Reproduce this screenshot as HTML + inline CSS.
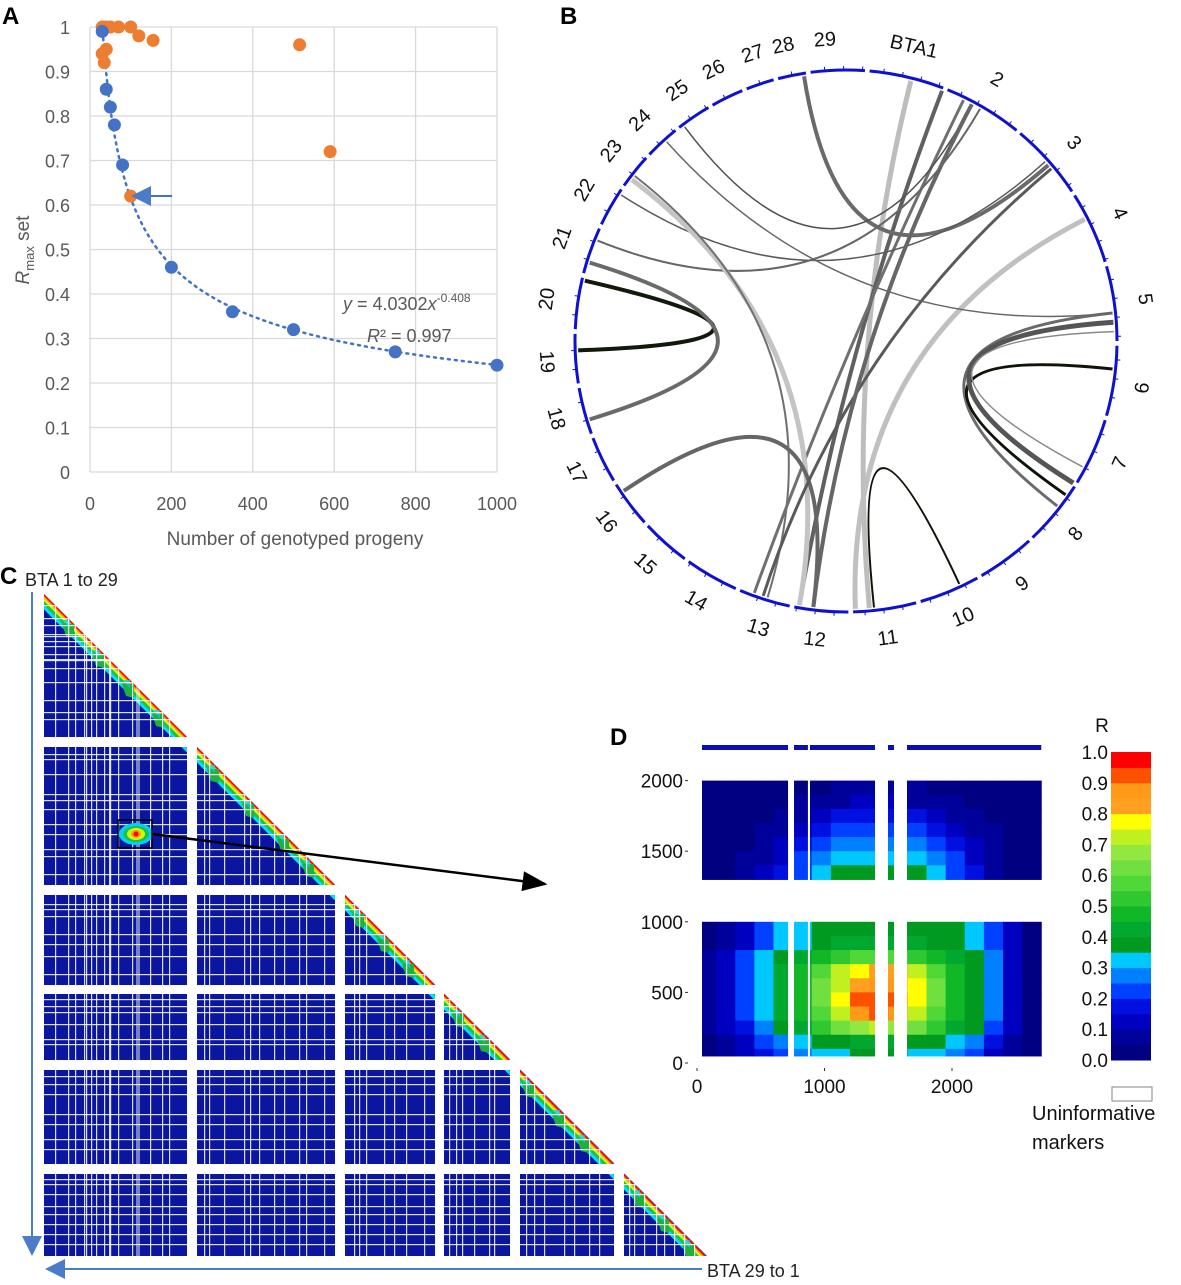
<!DOCTYPE html>
<html><head><meta charset="utf-8"><style>
html,body{margin:0;padding:0;background:#fff;}
svg text{font-family:"Liberation Sans",sans-serif;}
</style></head><body>
<svg id="fig" width="1181" height="1280" viewBox="0 0 1181 1280" xmlns="http://www.w3.org/2000/svg">
<defs>
<clipPath id="triClip"><polygon points="44,594 44,1256 707,1256"/></clipPath>
<clipPath id="dClip"><rect x="702" y="740" width="342" height="320"/></clipPath>
<marker id="arrBlue" markerWidth="10" markerHeight="10" refX="9" refY="5" orient="auto"><path d="M0,0 L10,5 L0,10 z" fill="#4a7cc7"/></marker>
<marker id="arrBlk" markerWidth="10" markerHeight="10" refX="9" refY="5" orient="auto"><path d="M0,1 L10,5 L0,9 z" fill="#000"/></marker>
</defs>
<g id="panelA"></g>
<g id="panelB"></g>
<g id="panelC"></g>
<g id="panelD"></g>
</svg>
<script>
// ---------- Panel A data ----------
const blueX=[30,40,50,60,80,200,350,500,750,1000];
const blueY=[0.99,0.86,0.82,0.78,0.69,0.46,0.36,0.32,0.27,0.24];
const orangeX=[30,40,50,70,100,120,155,30,35,40,100,515,590];
const orangeY=[1,1,1,1,1,0.98,0.97,0.94,0.92,0.95,0.62,0.96,0.72];
const xTicksA=[0,200,400,600,800,1000];
const yTicksA=[0,0.1,0.2,0.3,0.4,0.5,0.6,0.7,0.8,0.9,1];
const fitA=4.0302, fitB=-0.408;
// ---------- Panel B data ----------
const chromLabels=["BTA1","2","3","4","5","6","7","8","9","10","11","12","13","14","15","16","17","18","19","20","21","22","23","24","25","26","27","28","29"];
const chromAngles=[13,30,49,65,82,99,114,130,144,157,172,186,197,210,222,233,244,255,266,278,290,300,309,317,326,334,342,348,356];
const chordFrom=[14,21,26,351,323,303,292,268,253,307,308,236,63,84,84,96,122,155,198,187,118];
const chordTo=[175,190,200,49,28,48,30,283,287,190,197,187,178,128,318,125,86,174,50,28,88];
const chordColor=["#bdbdbd","#606060","#707070","#6a6a6a","#505050","#5a5a5a","#666","#111a0a","#6a6a6a","#c4c4c4","#707070","#666","#c0c0c0","#6a6a6a","#666","#0d1408","#555","#0d1408","#5a5a5a","#666","#888"];
const chordWidth=[5,4,3,4,1.5,1.5,2,4,4,5,2,4,5,3,1.5,3,5,2,3,4,1.5];
// ---------- Panel C data ----------
const blockGaps=[[143,153],[291,301],[391,400],[466,476],[570,580]];
const markerPos=[11,24,31,40,42,47,52,60,65,66,74,88,106,118,125,160,165,180,200,206,215,230,240,255,262,280,310,315,322,340,350,362,380,405,412,418,430,445,450,482,490,500,520,530,545,555,585,590,600,612,620,630,640,650];
// ---------- Panel D data ----------
const dColEdges=[0,150,300,450,600,750,900,1050,1200,1350,1500,1650,1800,1950,2100,2250,2400,2550,2700];
const dRowEdges=[2000,1900,1800,1700,1600,1500,1400,1300,1000,900,800,700,600,500,400,300,200,100,50];
const dRowSkip=[false,false,false,false,false,false,false,true,false,false,false,false,false,false,false,false,false,false];
const dValues=[
[0.02,0.02,0.02,0.02,0.02,0.03,0.04,0.05,0.06,0.06,0.06,0.05,0.04,0.03,0.02,0.02,0.02,0.02],
[0.02,0.02,0.02,0.02,0.03,0.05,0.07,0.09,0.1,0.1,0.1,0.09,0.07,0.05,0.03,0.02,0.02,0.02],
[0.02,0.02,0.02,0.03,0.05,0.08,0.12,0.15,0.16,0.16,0.16,0.15,0.12,0.08,0.05,0.03,0.02,0.02],
[0.02,0.02,0.03,0.05,0.08,0.12,0.18,0.21,0.22,0.22,0.22,0.21,0.18,0.12,0.08,0.05,0.02,0.02],
[0.02,0.02,0.04,0.07,0.11,0.17,0.23,0.27,0.28,0.28,0.28,0.27,0.23,0.17,0.11,0.06,0.02,0.02],
[0.02,0.03,0.05,0.09,0.14,0.2,0.27,0.31,0.33,0.33,0.33,0.31,0.27,0.2,0.14,0.08,0.03,0.02],
[0.02,0.03,0.06,0.1,0.16,0.22,0.3,0.35,0.38,0.38,0.38,0.37,0.32,0.24,0.16,0.09,0.03,0.02],
[0,0,0,0,0,0,0,0,0,0,0,0,0,0,0,0,0,0],
[0.04,0.08,0.14,0.22,0.3,0.33,0.36,0.38,0.38,0.38,0.38,0.38,0.38,0.36,0.32,0.22,0.1,0.04],
[0.04,0.08,0.14,0.24,0.3,0.33,0.37,0.4,0.4,0.4,0.4,0.4,0.39,0.37,0.3,0.22,0.1,0.04],
[0.06,0.12,0.2,0.3,0.38,0.42,0.47,0.52,0.56,0.57,0.57,0.52,0.47,0.42,0.38,0.26,0.12,0.04],
[0.06,0.12,0.22,0.32,0.4,0.46,0.56,0.7,0.78,0.8,0.8,0.72,0.58,0.47,0.39,0.28,0.12,0.04],
[0.06,0.12,0.22,0.32,0.4,0.47,0.6,0.74,0.84,0.86,0.85,0.75,0.6,0.48,0.39,0.28,0.12,0.04],
[0.06,0.12,0.22,0.32,0.4,0.47,0.6,0.76,0.9,0.93,0.9,0.77,0.6,0.48,0.39,0.28,0.12,0.04],
[0.06,0.12,0.22,0.32,0.4,0.46,0.58,0.74,0.88,0.9,0.86,0.74,0.58,0.47,0.39,0.27,0.12,0.04],
[0.05,0.1,0.18,0.27,0.36,0.42,0.5,0.6,0.68,0.7,0.66,0.6,0.5,0.42,0.36,0.23,0.1,0.04],
[0.04,0.08,0.13,0.22,0.28,0.33,0.37,0.39,0.4,0.4,0.4,0.38,0.36,0.32,0.26,0.17,0.08,0.04],
[0.03,0.06,0.1,0.17,0.22,0.27,0.31,0.34,0.36,0.36,0.35,0.33,0.3,0.26,0.2,0.13,0.06,0.03]];
const dGaps=[[714,761],[870,886],[1396,1498],[1545,1647]];
const dXTicks=[0,1000,2000];
const dYTicks=[0,500,1000,1500,2000];
const cbarLabels=["1.0","0.9","0.8","0.7","0.6","0.5","0.4","0.3","0.2","0.1","0.0"];
const cmap=["#000080","#00009a","#0000c0","#0010e0","#0040ff","#0080ff","#00c8ff","#009a20","#00a830","#10b828","#30c830","#50d838","#70e040","#90e840","#c0f020","#ffff00","#ffa020","#ff9a18","#ff5000","#ff0000"];

const NS="http://www.w3.org/2000/svg";
function mk(parent,tag,attrs,txt){const e=document.createElementNS(NS,tag);for(const k in attrs)e.setAttribute(k,attrs[k]);if(txt!==undefined)e.textContent=txt;parent.appendChild(e);return e;}
function cm(v){let i=Math.floor(v*20);if(i<0)i=0;if(i>19)i=19;return cmap[i];}

// ===== Panel A =====
(function(){
const g=document.getElementById('panelA');
const xA=v=>90+v*0.407, yA=v=>472-v*445;
let t=mk(g,'text',{x:2,y:24,'font-size':24,'font-weight':'bold',fill:'#000'},'A');


yTicksA.forEach(v=>{
 let l=mk(g,'line',{x1:xA(0),x2:xA(1000),y1:yA(v),y2:yA(v),stroke:'#d9d9d9','stroke-width':1.3});
 
 
 let tx=mk(g,'text',{x:70,y:yA(v)+7,'font-size':18,fill:'#595959','text-anchor':'end'},String(v));
 
 
});
xTicksA.forEach(v=>{
 let l=mk(g,'line',{x1:xA(v),x2:xA(v),y1:yA(0),y2:yA(1),stroke:'#d9d9d9','stroke-width':1.3});
 
 
 let tx=mk(g,'text',{x:xA(v),y:510,'font-size':18,fill:'#595959','text-anchor':'middle'},String(v));
 
 
});
let xt=mk(g,'text',{x:295,y:545,'font-size':19,fill:'#595959','text-anchor':'middle'},'Number of genotyped progeny');


let yt=mk(g,'text',{transform:'translate(29,250) rotate(-90)','font-size':19,fill:'#595959','text-anchor':'middle'});


yt.innerHTML='<tspan font-style="italic">R</tspan><tspan font-size="13" dy="5">max</tspan><tspan dy="-5"> set</tspan>';
let d='';for(let x=30;x<=1000;x+=5){const y=fitA*Math.pow(x,fitB);d+=(d?'L':'M')+xA(x).toFixed(1)+','+yA(Math.min(y,1.01)).toFixed(1);}
let fl=mk(g,'path',{d:d,fill:'none',stroke:'#4472c4','stroke-width':2.5,'stroke-dasharray':'2,5','stroke-linecap':'round'});


orangeX.forEach((x,i)=>{let c=mk(g,'circle',{cx:xA(x),cy:yA(orangeY[i]),r:6.5,fill:'#ed7d31'});
 
 });
blueX.forEach((x,i)=>{let c=mk(g,'circle',{cx:xA(x),cy:yA(blueY[i]),r:6.5,fill:'#4472c4'});
 
 });
let ar=mk(g,'line',{x1:172,y1:196,x2:133,y2:196,stroke:'#4472c4','stroke-width':2,'marker-end':'url(#arrBlue)'});


let eq=mk(g,'text',{x:343,y:310,'font-size':18,fill:'#595959'});


eq.innerHTML='<tspan font-style="italic">y</tspan> = 4.0302<tspan font-style="italic">x</tspan><tspan font-size="12" dy="-8">-0.408</tspan>';
let r2=mk(g,'text',{x:367,y:342,'font-size':18,fill:'#595959'});


r2.innerHTML='<tspan font-style="italic">R</tspan>² = 0.997';
})();

// ===== Panel B =====
(function(){
const g=document.getElementById('panelB');
const cx=846,cy=341,R=271;
const P=(a,r)=>[cx+r*Math.sin(a*Math.PI/180),cy-r*Math.cos(a*Math.PI/180)];
let t=mk(g,'text',{x:560,y:24,'font-size':24,'font-weight':'bold',fill:'#000'},'B');


const n=chromAngles.length;
for(let i=0;i<n;i++){
 const prev=chromAngles[(i-1+n)%n], cur=chromAngles[i], next=chromAngles[(i+1)%n];
 let s=(cur+((prev>cur?prev-360:prev)))/2+0.5;
 let e=(cur+(next<cur?next+360:next))/2-0.5;
 const p1=P(s,R),p2=P(e,R);
 let arc=mk(g,'path',{d:`M${p1[0]},${p1[1]} A${R},${R} 0 0 1 ${p2[0]},${p2[1]}`,fill:'none',stroke:'#1010d0','stroke-width':3});
 
 
 for(let a=s+3;a<e;a+=4){const q1=P(a,R),q2=P(a,R+4);mk(g,'line',{x1:q1[0],y1:q1[1],x2:q2[0],y2:q2[1],stroke:'#1010d0','stroke-width':1});}
 const lp=P(cur,R+30);
 let rot=(cur>90&&cur<270)?cur-180:cur;
 let lb=mk(g,'text',{x:lp[0],y:lp[1],'font-size':20,fill:'#111','text-anchor':'middle','dominant-baseline':'middle',transform:`rotate(${rot} ${lp[0]} ${lp[1]})`},chromLabels[i]);
 
 
}
chordFrom.forEach((a,i)=>{
 const p1=P(a,R-3),p2=P(chordTo[i],R-3);
 let c=mk(g,'path',{d:`M${p1[0]},${p1[1]} Q${cx},${cy} ${p2[0]},${p2[1]}`,fill:'none',stroke:chordColor[i],'stroke-width':chordWidth[i]});
 
 
});
})();

// ===== Panel C =====
(function(){
const g=document.getElementById('panelC');
const X0=44,Y0=594,N=662;
let t=mk(g,'text',{x:0,y:584,'font-size':24,'font-weight':'bold',fill:'#000'},'C');


let tl=mk(g,'text',{x:25,y:586,'font-size':18,fill:'#222'},'BTA 1 to 29');


let tb=mk(g,'text',{x:707,y:1277,'font-size':18,fill:'#222'},'BTA 29 to 1');


let a1=mk(g,'line',{x1:32,y1:592,x2:32,y2:1254,stroke:'#4a7cc7','stroke-width':2,'marker-end':'url(#arrBlue)'});


let a2=mk(g,'line',{x1:702,y1:1269,x2:47,y2:1269,stroke:'#4a7cc7','stroke-width':2,'marker-end':'url(#arrBlue)'});


const hm=mk(g,'g',{'clip-path':'url(#triClip)'});


mk(hm,'rect',{x:X0,y:Y0,width:N+2,height:N+2,fill:'#0a16a0'});
const fr=[[11,'#00e0ff'],[8,'#20c040'],[5,'#c8ff10'],[3,'#ffa020'],[1.5,'#ff0000']];
fr.forEach(f=>{const o=f[0]*Math.SQRT2;mk(hm,'polygon',{points:`${X0},${Y0} ${X0+N},${Y0+N} ${X0+N-o},${Y0+N} ${X0},${Y0+o}`,fill:f[1]});});
const stepsAt=[30,60,90,120,175,210,245,270,320,345,370,420,445,490,520,545,600,625,650];
stepsAt.forEach(s=>{mk(hm,'polygon',{points:`${X0+s},${Y0+s} ${X0+s},${Y0+s+14} ${X0+s-8},${Y0+s+12} ${X0+s-12},${Y0+s}`,fill:'#20b040'});
 mk(hm,'polygon',{points:`${X0+s-4},${Y0+s-4} ${X0+s-4},${Y0+s+4} ${X0+s-12},${Y0+s-4}`,fill:'#00d0ff',opacity:0.7});});
markerPos.forEach(p=>{
 mk(hm,'rect',{x:X0+p,y:Y0,width:1.2,height:N+2,fill:'#fff',opacity:0.85});
 mk(hm,'rect',{x:X0,y:Y0+p,width:N+2,height:1.2,fill:'#fff',opacity:0.85});
});
mk(hm,'rect',{x:X0+92,y:Y0,width:4,height:N+2,fill:'#fff',opacity:0.45});
const hx=136,hy=834;
[[17,11,'#00d0ff'],[13,8,'#20c040'],[9,6,'#c8ff10'],[5,4,'#ff9a10'],[2.5,2.5,'#ff0000']].forEach(e=>mk(hm,'ellipse',{cx:hx,cy:hy,rx:e[0],ry:e[1],fill:e[2]}));
blockGaps.forEach(b=>{
 mk(hm,'rect',{x:X0+b[0],y:Y0,width:b[1]-b[0],height:N+2,fill:'#fff'});
 mk(hm,'rect',{x:X0,y:Y0+b[0],width:N+2,height:b[1]-b[0],fill:'#fff'});
});
let box=mk(g,'rect',{x:118,y:820,width:34,height:28,fill:'none',stroke:'#000','stroke-width':1.5});


let za=mk(g,'line',{x1:152,y1:834,x2:545,y2:884,stroke:'#000','stroke-width':2.5,'marker-end':'url(#arrBlk)'});


})();

// ===== Panel D =====
(function(){
const g=document.getElementById('panelD');
const xs=v=>697+v*0.1275, ys=v=>1063-v*0.1412;
let t=mk(g,'text',{x:610,y:745,'font-size':24,'font-weight':'bold',fill:'#000'},'D');


const hm=mk(g,'g',{'clip-path':'url(#dClip)'});


mk(hm,'rect',{x:xs(0),y:745,width:xs(2700)-xs(0),height:5,fill:'#0a10b0'});
for(let r=0;r<dValues.length;r++){
 if(dRowSkip[r])continue;
 for(let c=0;c<dColEdges.length-1;c++){
  const x1=xs(dColEdges[c]),x2=xs(dColEdges[c+1]),y1=ys(dRowEdges[r]),y2=ys(dRowEdges[r+1]);
  mk(hm,'rect',{x:x1,y:y1,width:x2-x1+0.5,height:y2-y1+0.5,fill:cm(dValues[r][c])});
 }
}
mk(hm,'rect',{x:700,y:740,width:2,height:320,fill:'#fff'});
dGaps.forEach(gp=>mk(hm,'rect',{x:xs(gp[0]),y:740,width:xs(gp[1])-xs(gp[0]),height:320,fill:'#fff'}));
dXTicks.forEach(v=>{let tx=mk(g,'text',{x:xs(v),y:1093,'font-size':19,fill:'#111','text-anchor':'middle'},String(v));
 
 
 mk(g,'line',{x1:xs(v),x2:xs(v),y1:1068,y2:1071,stroke:'#333'});});
dYTicks.forEach(v=>{let tx=mk(g,'text',{x:683,y:ys(v)+7,'font-size':19,fill:'#111','text-anchor':'end'},String(v));
 
 
 mk(g,'line',{x1:685,x2:688,y1:ys(v),y2:ys(v),stroke:'#333'});});
const cb=mk(g,'g',{});


const top=752,bot=1060,h=(bot-top)/20;
cmap.forEach((c,i)=>mk(cb,'rect',{x:1111,y:bot-(i+1)*h,width:40,height:h+0.5,fill:c}));
cbarLabels.forEach((l,i)=>{let tx=mk(cb,'text',{x:1108,y:top+i*(bot-top)/10+7,'font-size':19,fill:'#111','text-anchor':'end'},l);
 
 });
let rt=mk(g,'text',{x:1102,y:732,'font-size':19,fill:'#111','text-anchor':'middle'},'R');


let ub=mk(g,'rect',{x:1112,y:1087,width:40,height:14,fill:'#fff',stroke:'#999','stroke-width':1.2});


let u1=mk(g,'text',{x:1032,y:1120,'font-size':20,fill:'#111'},'Uninformative');


let u2=mk(g,'text',{x:1032,y:1149,'font-size':20,fill:'#111'},'markers');


})();
</script>
</body></html>
